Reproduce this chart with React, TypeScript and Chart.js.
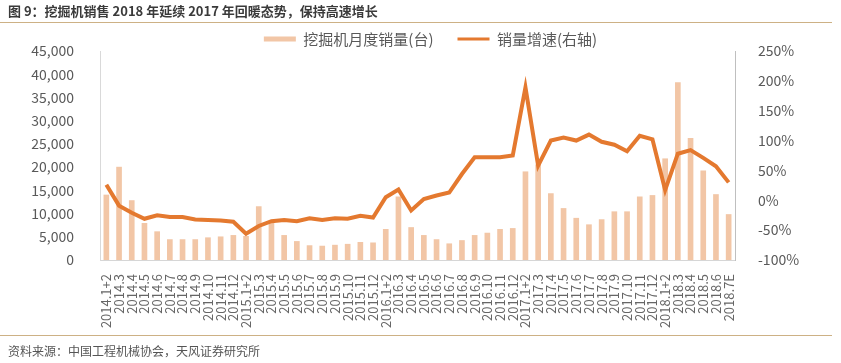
import React, { useEffect, useRef } from 'react';
import { Chart, registerables } from 'chart.js';

Chart.register(...registerables);

const categories = [
  '2014.1+2', '2014.3', '2014.4', '2014.5', '2014.6', '2014.7', '2014.8', '2014.9', '2014.10', '2014.11', '2014.12',
  '2015.1+2', '2015.3', '2015.4', '2015.5', '2015.6', '2015.7', '2015.8', '2015.9', '2015.10', '2015.11', '2015.12',
  '2016.1+2', '2016.3', '2016.4', '2016.5', '2016.6', '2016.7', '2016.8', '2016.9', '2016.10', '2016.11', '2016.12',
  '2017.1+2', '2017.3', '2017.4', '2017.5', '2017.6', '2017.7', '2017.8', '2017.9', '2017.10', '2017.11', '2017.12',
  '2018.1+2', '2018.3', '2018.4', '2018.5', '2018.6', '2018.7E',
];

const monthlySales = [
  14000, 20000, 12800, 7900, 6100, 4400, 4400, 4400, 4800, 5000, 5300,
  5100, 11500, 8000, 5300, 4000, 3100, 3000, 3200, 3400, 3800, 3700,
  6600, 13600, 7000, 5300, 4400, 3500, 4200, 5300, 5800, 6600, 6800,
  19000, 20500, 14300, 11100, 9000, 7600, 8700, 10400, 10400, 13600, 13900,
  21800, 38200, 26200, 19200, 14100, 9800,
];

const growthRate = [
  26, -9, -21, -31, -25, -28, -28, -32, -33, -34, -36,
  -56, -43, -35, -33, -35, -30, -33, -30, -31, -26, -29,
  5, 18, -17, 2, 8, 13, 44, 72, 72, 72, 75,
  189, 58, 100, 105, 100, 110, 98, 93, 82, 108, 102,
  17, 78, 84, 71, 57, 30,
];

const seriesNames = ['挖掘机月度销量(台)', '销量增速(右轴)'];
const titleText = '图 9：挖掘机销售 2018 年延续 2017 年回暖态势，保持高速增长';
const sourceText = '资料来源：中国工程机械协会，天风证券研究所';

const FONT = '"Noto Sans CJK SC", "Liberation Sans", sans-serif';
const BAR_COLOR = '#F2C6A6';
const LINE_COLOR = '#E4792F';
const TEXT_COLOR = '#595959';

export default function App() {
  const canvasRef = useRef<HTMLCanvasElement | null>(null);

  useEffect(() => {
    if (!canvasRef.current) return;
    const chart = new Chart(canvasRef.current, {
      type: 'bar',
      data: {
        labels: categories,
        datasets: [
          {
            type: 'bar',
            label: seriesNames[0],
            data: monthlySales,
            backgroundColor: BAR_COLOR,
            borderWidth: 0,
            barThickness: 5,
            yAxisID: 'y',
            order: 1,
          },
          {
            type: 'line',
            label: seriesNames[1],
            data: growthRate,
            borderColor: LINE_COLOR,
            backgroundColor: LINE_COLOR,
            borderWidth: 4,
            pointRadius: 0,
            tension: 0,
            yAxisID: 'y1',
            order: 0,
          },
        ],
      },
      options: {
        animation: false,
        responsive: false,
        maintainAspectRatio: false,
        layout: { padding: { top: 7.5, left: 20, right: 0, bottom: 0 } },
        plugins: {
          tooltip: { enabled: false },
          legend: {
            position: 'top',
            maxHeight: 43.5,
            labels: {
              usePointStyle: true,
              pointStyleWidth: 32,
              boxHeight: 5,
              padding: 24,
              color: TEXT_COLOR,
              font: { family: FONT, size: 15 },
              sort: (a: any, b: any) => a.datasetIndex - b.datasetIndex,
              generateLabels: (chart: any) => {
                const items = Chart.defaults.plugins.legend.labels.generateLabels(chart);
                items.forEach((it: any) => {
                  if (it.datasetIndex === 0) {
                    it.pointStyle = 'rect';
                    it.fillStyle = BAR_COLOR;
                    it.strokeStyle = BAR_COLOR;
                    it.lineWidth = 0;
                  } else {
                    it.pointStyle = 'line';
                    it.strokeStyle = LINE_COLOR;
                    it.lineWidth = 3;
                  }
                });
                return items;
              },
            },
          },
        },
        scales: {
          x: {
            grid: { display: false },
            border: { display: true, color: '#d6d6d6', width: 1 },
            ticks: {
              autoSkip: false,
              minRotation: 90,
              maxRotation: 90,
              padding: 6,
              color: '#666666',
              font: { family: FONT, size: 13 },
            },
            afterFit: (scale: any) => { scale.height = 103; },
          },
          y: {
            position: 'left',
            min: 0,
            max: 45000,
            grid: { display: false },
            border: { display: true, color: '#d9d9d9', width: 1 },
            ticks: {
              stepSize: 5000,
              padding: 18,
              color: TEXT_COLOR,
              font: { family: FONT, size: 14 },
              callback: (v: any) => Number(v).toLocaleString('en-US'),
            },
            afterFit: (scale: any) => { scale.width = 80; },
          },
          y1: {
            position: 'right',
            min: -100,
            max: 250,
            grid: { display: false },
            border: { display: true, color: '#bfbfbf', width: 1 },
            ticks: {
              stepSize: 50,
              padding: 15,
              color: TEXT_COLOR,
              font: { family: FONT, size: 14 },
              callback: (v: any) => `${v}%`,
            },
            afterFit: (scale: any) => { scale.width = 106; },
          },
        },
      },
    });
    return () => chart.destroy();
  }, []);

  return (
    <div style={{ position: 'absolute', left: 0, top: 0, width: 841, height: 363, background: '#fff', overflow: 'hidden' }}>
      <canvas ref={canvasRef} width={841} height={363} style={{ position: 'absolute', left: 0, top: 0, width: 841, height: 363 }} />
      <div style={{ position: 'absolute', left: 8, top: 2, fontFamily: FONT, fontWeight: 'bold', fontSize: 13, lineHeight: '18px', color: '#3a3a3a', whiteSpace: 'nowrap' }}>
        {titleText}
      </div>
      <div style={{ position: 'absolute', left: 0, top: 22, width: 832, height: 0, borderTop: '1.5px solid #CDB185' }} />
      <div style={{ position: 'absolute', left: 0, top: 335, width: 832, height: 0, borderTop: '1.5px solid #CDB185' }} />
      <div style={{ position: 'absolute', left: 8, top: 342, fontFamily: FONT, fontSize: 12, lineHeight: '17px', color: '#555', whiteSpace: 'nowrap' }}>
        {sourceText}
      </div>
    </div>
  );
}
